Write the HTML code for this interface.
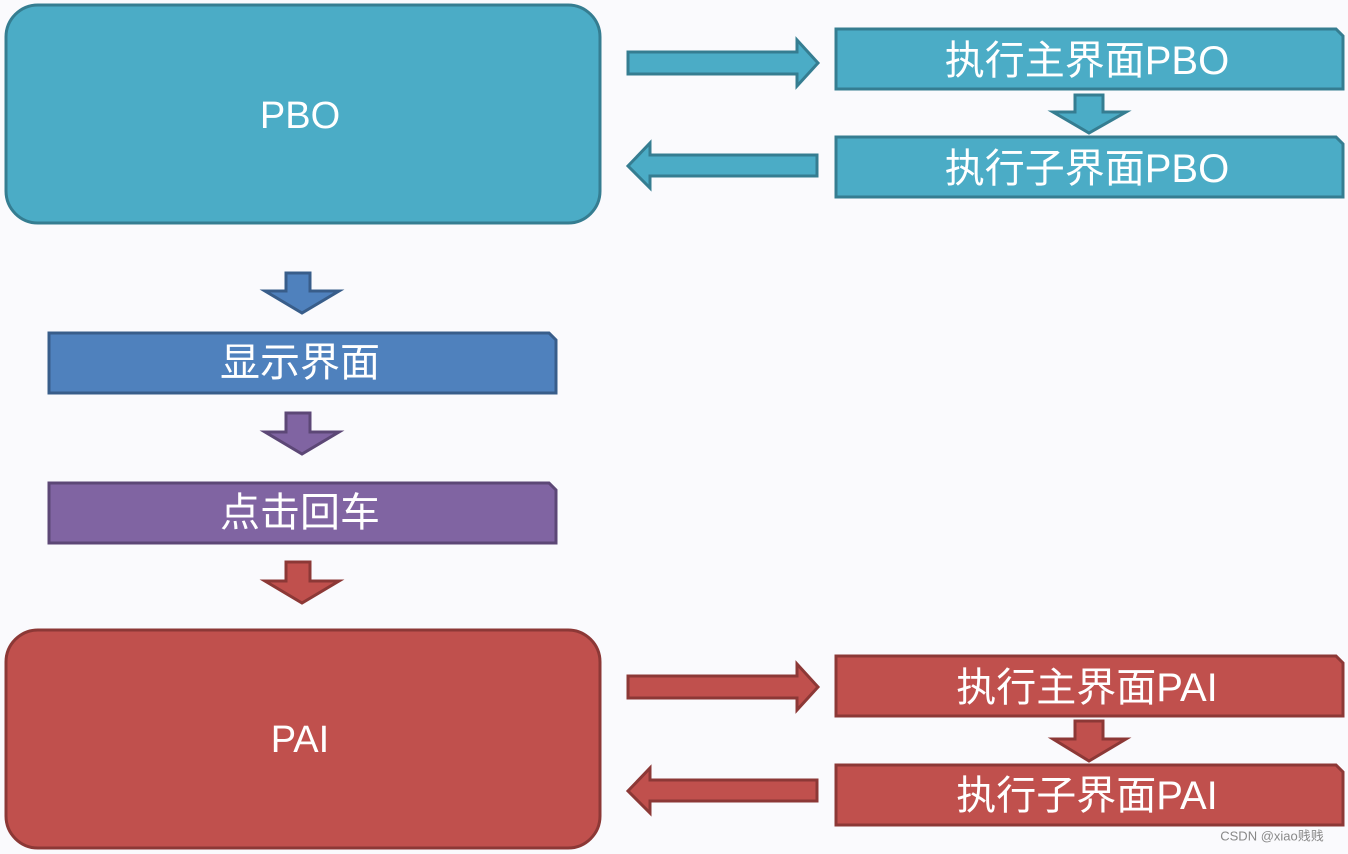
<!DOCTYPE html>
<html><head><meta charset="utf-8"><style>
html,body{margin:0;padding:0;background:#fafafd;}
svg{display:block}
text{font-family:"Liberation Sans","Noto Sans CJK SC",sans-serif;fill:#fff;text-anchor:middle;dominant-baseline:central}
</style></head><body>
<svg width="1348" height="854" viewBox="0 0 1348 854" xmlns="http://www.w3.org/2000/svg">
<rect x="0" y="0" width="1348" height="854" fill="#fafafd"/>
<!-- PBO group -->
<rect x="6" y="5" width="594" height="218" rx="32" fill="#4bacc6" stroke="#357d91" stroke-width="3"/>
<text x="300" y="116" font-size="38">PBO</text>
<polygon points="628,52 797,52 797,40 818,63 797,86 797,74 628,74" fill="#4bacc6" stroke="#357d91" stroke-width="3"/>
<polygon points="836,29 1336,29 1343,36 1343,89 836,89" fill="#4bacc6" stroke="#357d91" stroke-width="3"/>
<text x="1087" y="61" font-size="40">执行主界面PBO</text>
<polygon points="1075,95 1103,95 1103,112 1126,112 1089,133 1053,112 1075,112" fill="#4bacc6" stroke="#357d91" stroke-width="3"/>
<polygon points="836,137 1336,137 1343,144 1343,197 836,197" fill="#4bacc6" stroke="#357d91" stroke-width="3"/>
<text x="1087" y="169" font-size="40">执行子界面PBO</text>
<polygon points="817,155 650,155 650,143 628,166 650,188 650,176 817,176" fill="#4bacc6" stroke="#357d91" stroke-width="3"/>
<!-- middle -->
<polygon points="286,273 310,273 310,291 339,291 302,313 265,291 286,291" fill="#4f81bd" stroke="#385d8a" stroke-width="3"/>
<polygon points="49,333 549,333 556,340 556,393 49,393" fill="#4f81bd" stroke="#385d8a" stroke-width="3"/>
<text x="300" y="363" font-size="40">显示界面</text>
<polygon points="286,413 310,413 310,432 339,432 302,454 265,432 286,432" fill="#8064a2" stroke="#5c4776" stroke-width="3"/>
<polygon points="49,483 549,483 556,490 556,543 49,543" fill="#8064a2" stroke="#5c4776" stroke-width="3"/>
<text x="300" y="513" font-size="40">点击回车</text>
<polygon points="286,562 310,562 310,581 339,581 302,603 265,581 286,581" fill="#c0504d" stroke="#8c3836" stroke-width="3"/>
<!-- PAI group -->
<rect x="6" y="630" width="594" height="218" rx="32" fill="#c0504d" stroke="#8c3836" stroke-width="3"/>
<text x="300" y="740" font-size="38">PAI</text>
<polygon points="628,676 797,676 797,664 818,687 797,710 797,698 628,698" fill="#c0504d" stroke="#8c3836" stroke-width="3"/>
<polygon points="836,656 1336,656 1343,663 1343,716 836,716" fill="#c0504d" stroke="#8c3836" stroke-width="3"/>
<text x="1087" y="688" font-size="40">执行主界面PAI</text>
<polygon points="1075,721 1103,721 1103,739 1126,739 1089,761 1053,739 1075,739" fill="#c0504d" stroke="#8c3836" stroke-width="3"/>
<polygon points="836,765 1336,765 1343,772 1343,825 836,825" fill="#c0504d" stroke="#8c3836" stroke-width="3"/>
<text x="1087" y="796" font-size="40">执行子界面PAI</text>
<polygon points="817,780 650,780 650,768 628,791 650,813 650,801 817,801" fill="#c0504d" stroke="#8c3836" stroke-width="3"/>
<text x="1272" y="836" font-size="13" style="fill:#888">CSDN @xiao贱贱</text>
</svg>
</body></html>
